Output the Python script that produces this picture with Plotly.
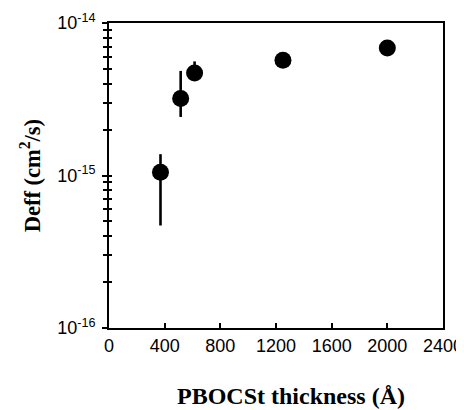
import plotly.graph_objects as go

# Data
thickness = [370, 515, 615, 1250, 2000]
deff = [1.05e-15, 3.2e-15, 4.7e-15, 5.7e-15, 6.85e-15]
err_plus = [0.33e-15, 1.65e-15, 0.9e-15, 0.0, 0.0]
err_minus = [0.58e-15, 0.78e-15, 0.4e-15, 0.0, 0.0]

x_ticks = [0, 400, 800, 1200, 1600, 2000, 2400]
y_major = [1e-16, 1e-15, 1e-14]
y_major_text = ["10<sup>-16</sup>", "10<sup>-15</sup>", "10<sup>-14</sup>"]
y_all = [k * 10.0 ** e for e in (-16, -15) for k in range(1, 10)] + [1e-14]

x_title = "<b>PBOCSt thickness (Å)</b>"
y_title = "<b>Deff (cm<sup>2</sup>/s)</b>"

fig = go.Figure()
fig.add_trace(go.Scatter(
    x=thickness, y=deff, mode="markers",
    marker=dict(color="black", size=17),
    error_y=dict(type="data", symmetric=False, array=err_plus, arrayminus=err_minus,
                 color="black", thickness=2.6, width=0),
    showlegend=False,
))
fig.add_trace(go.Scatter(x=[None], y=[None], yaxis="y2", showlegend=False))
fig.add_trace(go.Scatter(x=[None], y=[None], yaxis="y3", showlegend=False))

tick_font = dict(family="Liberation Sans, Arial", size=18, color="black")
xtitle_font = dict(family="Liberation Serif, Times New Roman", size=24, color="black")
ytitle_font = dict(family="Liberation Serif, Times New Roman", size=22.5, color="black")

# the page body adds an 8px offset, so the figure is drawn 8px smaller
fig.update_layout(
    width=456, height=402,
    margin=dict(l=101, r=21, t=15, b=82),
    paper_bgcolor="white", plot_bgcolor="white",
    xaxis=dict(
        range=[0, 2400], tickvals=x_ticks, ticks="inside", ticklen=5, tickwidth=1.5,
        tickcolor="black", showline=True, linecolor="black", linewidth=2, mirror=True,
        showgrid=False, zeroline=False, tickfont=tick_font, automargin=False,
    ),
    yaxis=dict(
        type="log", range=[-16, -14], tickvals=y_major, ticktext=y_major_text,
        ticks="outside", ticklen=5, tickwidth=1.5, tickcolor="black",
        showline=True, linecolor="black", linewidth=2, mirror=True,
        showgrid=False, zeroline=False, tickfont=tick_font, automargin=False,
        ticklabelstandoff=3,
    ),
    yaxis2=dict(
        type="log", range=[-16, -14], overlaying="y", side="left",
        tickvals=y_all, ticks="outside", ticklen=5, tickwidth=1.5, tickcolor="black",
        showline=False, showgrid=False, zeroline=False, showticklabels=False,
        automargin=False,
    ),
    yaxis3=dict(
        type="log", range=[-16, -14], overlaying="y", side="left",
        tickvals=y_all, ticks="inside", ticklen=3, tickwidth=1.5, tickcolor="black",
        showline=False, showgrid=False, zeroline=False, showticklabels=False,
        automargin=False,
    ),
    annotations=[
        dict(text=x_title, xref="paper", yref="paper", x=0.545, y=-0.222,
             xanchor="center", yanchor="middle", showarrow=False, font=xtitle_font),
        dict(text=y_title, xref="paper", yref="paper", x=-0.237, y=0.5,
             xanchor="center", yanchor="middle", textangle=-90, showarrow=False,
             font=ytitle_font),
    ],
)

fig.write_html("out.html")
